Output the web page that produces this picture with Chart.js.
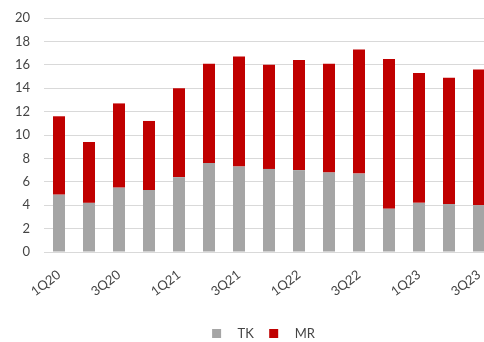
<!DOCTYPE html>
<html>
<head>
<meta charset="utf-8">
<script src="https://cdn.jsdelivr.net/npm/chart.js@4/dist/chart.umd.min.js"></script>
<style>
  html, body { margin: 0; padding: 0; overflow: hidden; background: #fff; }
  canvas { display: block; }
</style>
</head>
<body>
<canvas id="c" width="527" height="342"></canvas>
<script>
const quarters = ['1Q20','2Q20','3Q20','4Q20','1Q21','2Q21','3Q21','4Q21','1Q22','2Q22','3Q22','4Q22','1Q23','2Q23','3Q23'];
const tkValues = [4.9, 4.2, 5.5, 5.3, 6.4, 7.6, 7.3, 7.1, 7.0, 6.8, 6.7, 3.7, 4.2, 4.1, 4.0];
const mrValues = [6.7, 5.2, 7.2, 5.9, 7.6, 8.5, 9.4, 8.9, 9.4, 9.3, 10.6, 12.8, 11.1, 10.8, 11.6];
const yTicks = [0, 2, 4, 6, 8, 10, 12, 14, 16, 18, 20];

const textColor = '#454545';
const font = { family: 'Lato, "Open Sans", sans-serif', size: 13 };

new Chart(document.getElementById('c'), {
  type: 'bar',
  data: {
    labels: quarters,
    datasets: [
      { label: 'TK', data: tkValues, backgroundColor: '#A5A5A5' },
      { label: 'MR', data: mrValues, backgroundColor: '#C00000' }
    ]
  },
  options: {
    responsive: false,
    animation: false,
    devicePixelRatio: 1,
    layout: { padding: { top: 18, right: 0, left: 0, bottom: -8 } },
    datasets: { bar: { barPercentage: 0.4, categoryPercentage: 1.0 } },
    plugins: {
      tooltip: { enabled: false },
      legend: {
        position: 'bottom',
        labels: {
          font: font,
          color: textColor,
          boxWidth: 9,
          boxHeight: 9,
          padding: 2,
          generateLabels(chart) {
            const items = Chart.defaults.plugins.legend.labels.generateLabels(chart);
            items.forEach((it, i) => {
              it.text = '   ' + it.text + (i < items.length - 1 ? '    ' : '');
            });
            return items;
          }
        }
      }
    },
    scales: {
      x: {
        stacked: true,
        grid: { display: false, drawTicks: true, tickLength: 12 },
        border: { display: false },
        afterFit(scale) { scale.height = 73; },
        ticks: {
          autoSkip: false,
          minRotation: 37,
          maxRotation: 37,
          padding: 3,
          font: font,
          color: textColor,
          callback(value, index) { return index % 2 === 0 ? quarters[index] : ''; }
        }
      },
      y: {
        stacked: true,
        min: 0,
        max: 20,
        afterBuildTicks(scale) { scale.ticks = yTicks.map(v => ({ value: v })); },
        afterFit(scale) { scale.width = 44; },
        grid: { color: '#D9D9D9', lineWidth: 1, drawTicks: true, tickLength: 11, tickColor: 'rgba(0,0,0,0)' },
        border: { display: false },
        ticks: { padding: 3, font: font, color: textColor }
      },
      // empty right-hand margin axis
      yRight: {
        position: 'right',
        display: true,
        afterFit(scale) { scale.width = 33; },
        grid: { display: false, drawTicks: false },
        border: { display: false },
        ticks: { display: false }
      }
    }
  }
});
</script>
</body>
</html>
